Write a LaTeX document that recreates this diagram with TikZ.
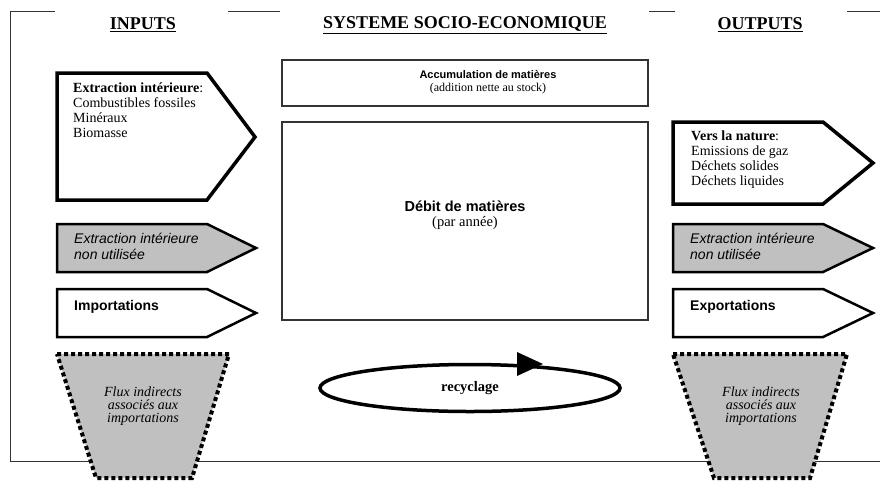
\documentclass[tikz,border=0pt]{standalone}
\usepackage{fontspec}
\setmainfont{Liberation Serif}
\setsansfont{Liberation Sans}
\usetikzlibrary{shapes,arrows,positioning}
\definecolor{greyfill}{HTML}{C0C0C0}
\definecolor{framegrey}{HTML}{333333}
\tikzstyle{heading} = [font=\fontsize{18}{21}\selectfont\bfseries, inner sep=0]
\tikzstyle{flowbox} = [draw=framegrey, line width=1.2pt, rectangle]
\tikzstyle{flowarrow} = [draw, line width=3.5pt, line join=miter]
\tikzstyle{smallarrow} = [draw, line width=2.5pt, line join=miter]
\tikzstyle{indirect} = [draw, fill=greyfill, line width=4pt, dash pattern=on 4pt off 3pt]
\tikzstyle{serifblock} = [align=left, anchor=north west, inner sep=0, font=\fontsize{14}{14.8}\selectfont]
\tikzstyle{sansblock} = [align=left, anchor=north west, inner sep=0, font=\sffamily\fontsize{14}{16}\selectfont]
\tikzstyle{centrecaption} = [align=center, inner sep=0, font=\fontsize{14.5}{15}\selectfont]

\begin{document}
\begin{tikzpicture}[x=1pt, y=-1pt]
        \useasboundingbox (0,0) rectangle (880,480);

        % frame
        \draw[framegrey, line width=1pt] (55,11) -- (10,11) -- (10,461) -- (880,461);
        \draw[framegrey, line width=1pt] (228,11) -- (280,11);
        \draw[framegrey, line width=1pt] (649,11) -- (675,11);
        \draw[framegrey, line width=1pt] (847,11) -- (880,11);

        % headings
        \node [heading] (inputs) at (143,25) {\underline{INPUTS}};
        \node [heading] (systeme) at (465,25) {\underline{SYSTEME SOCIO-ECONOMIQUE}};
        \node [heading] (outputs) at (760,25) {\underline{OUTPUTS}};

        % socio-economic system
        \node [flowbox, minimum width=366pt, minimum height=46pt] (accum) at (465,83) {};
        \node [flowbox, minimum width=366pt, minimum height=198pt] (debit) at (465,221) {};
        \node [centrecaption, font=\fontsize{12}{13.5}\selectfont] (accumtext) at (488,82) {{\sffamily\bfseries\fontsize{11}{13}\selectfont Accumulation de matières}\\(addition nette au stock)};
        \node [centrecaption] (debittext) at (465,215) {{\sffamily\bfseries Débit de matières}\\(par année)};

        % inputs
        \draw[flowarrow] (57,73) -- (207,73) -- (255,137) -- (207,200) -- (57,200) -- cycle;
        \draw[smallarrow, fill=greyfill] (57,224) -- (207,224) -- (256,248) -- (207,272) -- (57,272) -- cycle;
        \draw[smallarrow] (57,289) -- (207,289) -- (256,313) -- (207,337) -- (57,337) -- cycle;
        \draw[indirect] (57,354) -- (229,354) -- (192,478) -- (96,478) -- cycle;

        \node [serifblock] (extraction) at (73,83) {\textbf{Extraction intérieure}:\\Combustibles fossiles\\Minéraux\\Biomasse};
        \node [sansblock] (unusedin) at (74,233) {\itshape Extraction intérieure\\\itshape non utilisée};
        \node [sansblock] (imports) at (74,300) {\bfseries Importations};
        \node [centrecaption, font=\itshape\fontsize{14}{13.3}\selectfont] (indirectin) at (143,406) {Flux indirects\\associés aux\\importations};

        % outputs
        \draw[flowarrow] (673,122) -- (823,122) -- (873,163) -- (823,204) -- (673,204) -- cycle;
        \draw[smallarrow, fill=greyfill] (673,224) -- (823,224) -- (873,248) -- (823,272) -- (673,272) -- cycle;
        \draw[smallarrow] (673,289) -- (823,289) -- (873,313) -- (823,337) -- (673,337) -- cycle;
        \draw[indirect] (673,354) -- (847,354) -- (810,478) -- (714,478) -- cycle;

        \node [serifblock] (nature) at (691,131) {\textbf{Vers la nature}:\\Emissions de gaz\\Déchets solides\\Déchets liquides};
        \node [sansblock] (unusedout) at (690,233) {\itshape Extraction intérieure\\\itshape non utilisée};
        \node [sansblock] (exports) at (690,300) {\bfseries Exportations};
        \node [centrecaption, font=\itshape\fontsize{14}{13.3}\selectfont] (indirectout) at (761,406) {Flux indirects\\associés aux\\importations};

        % recycling loop
        \node [draw, ellipse, line width=3.5pt, minimum width=300pt, minimum height=47pt, font=\bfseries\fontsize{14.5}{16}\selectfont] (recycle) at (470,388) {recyclage};
        \fill (517,352) -- (543,364) -- (517,376) -- cycle;
    \end{tikzpicture}
\end{document}
